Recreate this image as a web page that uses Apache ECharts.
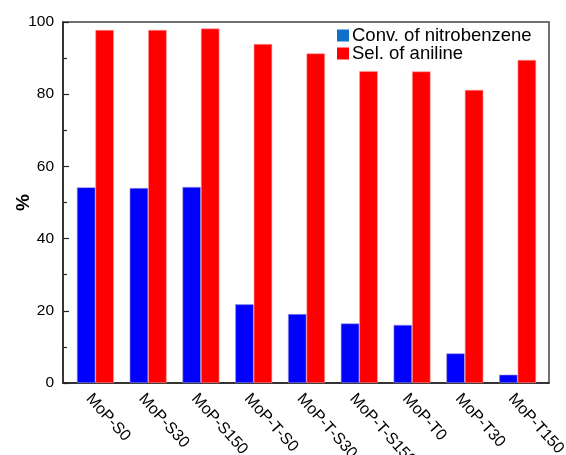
<!DOCTYPE html>
<html>
<head>
<meta charset="utf-8">
<script src="https://cdn.jsdelivr.net/npm/echarts@6/dist/echarts.min.js"></script>
<style>
  html, body { margin: 0; padding: 0; background: #fff; }
  #chart { width: 566px; height: 455px; }
</style>
</head>
<body>
<div id="chart"></div>
<script>
// Catalyst samples
const categories = ['MoP-S0', 'MoP-S30', 'MoP-S150', 'MoP-T-S0', 'MoP-T-S30', 'MoP-T-S150', 'MoP-T0', 'MoP-T30', 'MoP-T150'];
// Conversion of nitrobenzene (%)
const conversion = [54.2, 54.0, 54.3, 21.8, 19.1, 16.5, 16.1, 8.2, 2.3];
// Selectivity to aniline (%)
const selectivity = [97.8, 97.8, 98.2, 93.9, 91.3, 86.4, 86.3, 81.2, 89.5];
const seriesNames = ['Conv. of nitrobenzene', 'Sel. of aniline'];
const yTicks = [0, 20, 40, 60, 80, 100];

const chart = echarts.init(document.getElementById('chart'));
const font = 'Liberation Sans, Arial, sans-serif';
const axisColor = '#222';
const yMin = yTicks[0];
const yMax = yTicks[yTicks.length - 1];

// one legend box per entry so the rows can sit tightly stacked
function legendEntry(name, color, top) {
  return {
    left: 337, top: top, padding: 0,
    itemWidth: 12, itemHeight: 12,
    icon: 'rect',
    itemStyle: { borderWidth: 0 },
    textStyle: { fontFamily: font, fontSize: 18.5, color: '#000', padding: [0, 0, 0, -2] },
    data: [{ name: name, itemStyle: { color: color, borderWidth: 0 } }]
  };
}

chart.setOption({
  animation: false,
  grid: [
    // outer frame carrying the y axis
    {
      left: 63, right: 17, top: 22, bottom: 72,
      containLabel: false, outerBoundsMode: 'none',
      show: true, borderColor: '#444', borderWidth: 1.5
    },
    // inner area holding the bar groups, slightly inset from the frame
    {
      left: 69, right: 22, top: 22, bottom: 72,
      containLabel: false, outerBoundsMode: 'none'
    }
  ],
  legend: [
    legendEntry(seriesNames[0], '#0f72c8', 26),
    legendEntry(seriesNames[1], '#ff0000', 44)
  ],
  xAxis: [
    {
      gridIndex: 0, type: 'value', min: 0, max: 1,
      axisLine: { show: true, onZero: false, lineStyle: { color: axisColor, width: 1.5 } },
      axisTick: { show: false }, axisLabel: { show: false }, splitLine: { show: false }
    },
    {
      gridIndex: 1, type: 'category',
      data: categories,
      axisLine: { show: false },
      axisTick: { show: false },
      axisLabel: {
        rotate: -48, interval: 0, margin: 7,
        fontFamily: font, fontSize: 16, color: '#000',
        align: 'left', verticalAlign: 'top',
        padding: [1, 0, 0, 0]
      }
    }
  ],
  yAxis: [
    {
      gridIndex: 0, type: 'value',
      min: yMin, max: yMax, interval: 20,
      name: '%',
      nameLocation: 'middle',
      nameMoveOverlap: false,
      nameGap: 30,
      nameTextStyle: { fontFamily: font, fontSize: 19, fontWeight: 'bold', color: '#000' },
      axisLine: { show: true, lineStyle: { color: axisColor, width: 1.5 } },
      axisTick: { show: true, inside: true, length: 6, lineStyle: { color: axisColor, width: 1.2 } },
      minorTick: { show: true, splitNumber: 2, length: 4, lineStyle: { color: axisColor, width: 1.2 } },
      splitLine: { show: false },
      axisLabel: { fontFamily: font, fontSize: 15.5, color: '#000', margin: 9 }
    },
    {
      gridIndex: 1, type: 'value', min: yMin, max: yMax,
      show: false, splitLine: { show: false }
    }
  ],
  series: [
    {
      name: seriesNames[0], type: 'bar', data: conversion,
      xAxisIndex: 1, yAxisIndex: 1,
      barGap: '0%', barCategoryGap: '30%',
      itemStyle: { color: '#0000ff', borderColor: '#9a9ad8', borderWidth: 0.6 }
    },
    {
      name: seriesNames[1], type: 'bar', data: selectivity,
      xAxisIndex: 1, yAxisIndex: 1,
      itemStyle: { color: '#ff0000', borderColor: '#ff9a9a', borderWidth: 0.6 }
    }
  ]
});
</script>
</body>
</html>
